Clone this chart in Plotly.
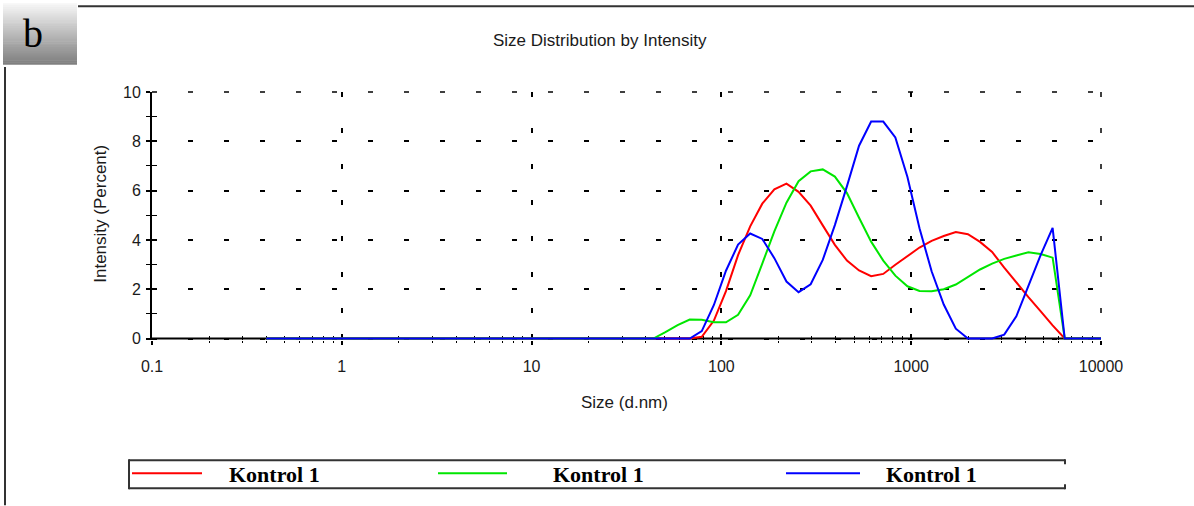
import plotly.graph_objects as go

# ---------------- data ----------------
# size bins (d.nm) shared by the three runs
sizes = [0.4, 43.8, 50.7, 58.8, 68.1, 78.8, 91.3, 105.7, 122.4, 141.8, 164.2, 190.1,
         220.2, 255.0, 295.3, 342.0, 396.1, 458.7, 531.2, 615.1, 712.4, 825.0, 955.4,
         1106, 1281, 1484, 1718, 1990, 2305, 2669, 3091, 3580, 4145, 4801, 5560, 6439,
         7456, 8635, 10000]

red_int = [0, 0, 0, 0, 0, 0.07, 0.73, 1.92, 3.38, 4.55, 5.47, 6.05, 6.28, 5.95, 5.39,
           4.59, 3.8, 3.16, 2.76, 2.53, 2.62, 2.99, 3.35, 3.69, 3.96, 4.16, 4.32, 4.23,
           3.92, 3.51, 2.88, 2.26, 1.68, 1.11, 0.53, 0, 0, 0, 0]

green_int = [0, 0, 0.26, 0.54, 0.77, 0.76, 0.66, 0.66, 0.96, 1.75, 3.04, 4.35, 5.51,
             6.38, 6.78, 6.86, 6.57, 5.9, 4.9, 3.93, 3.16, 2.55, 2.12, 1.93, 1.92, 2.0,
             2.19, 2.51, 2.8, 3.04, 3.23, 3.37, 3.5, 3.43, 3.28, 0, 0, 0, 0]

blue_int = [0, 0, 0, 0, 0, 0.3, 1.36, 2.75, 3.81, 4.26, 4.04, 3.26, 2.31, 1.88, 2.2,
            3.19, 4.6, 6.18, 7.82, 8.8, 8.8, 8.16, 6.55, 4.47, 2.73, 1.38, 0.4, 0, 0, 0,
            0.16, 0.9, 2.14, 3.37, 4.49, 0, 0, 0, 0]

series_names = ["Kontrol 1", "Kontrol 1", "Kontrol 1"]
series_colors = ["#ff0000", "#00e600", "#0000ff"]

x_tickvals = [0.1, 1, 10, 100, 1000, 10000]
x_ticktext = ["0.1", "1", "10", "100", "1000", "10000"]
x_minor = [m * 10 ** e for e in range(-1, 4) for m in range(2, 10)]
y_tickvals = [0, 2, 4, 6, 8, 10]
y_minor = [1, 3, 5, 7, 9]
y_range = [-0.06, 10]
x_range_log = [-1, 4]

title_text = "Size Distribution by Intensity"
x_title = "Size (d.nm)"
y_title = "Intensity (Percent)"
panel_letter = "b"

# ---------------- geometry helpers ----------------
W, H = 1194, 506
L, R, T, B = 152, 1101, 92, 340.5
ZERO_Y = 339  # pixel row of intensity 0


def px(x):
    return (x - L) / (R - L)


def py(y):
    return (B - y) / (B - T)


fig = go.Figure()
# x axis line along intensity 0 (drawn first so the curves cover it)
fig.add_trace(go.Scatter(x=[x_tickvals[0], x_tickvals[-1]], y=[0, 0], mode="lines",
                         line=dict(color="black", width=2), showlegend=False,
                         hoverinfo="skip"))
for ys, c, n in zip([red_int, green_int, blue_int], series_colors, series_names):
    fig.add_trace(go.Scatter(x=sizes, y=ys, mode="lines", name=n,
                             line=dict(color=c, width=2), showlegend=False,
                             hoverinfo="x+y"))

# empty trace for overlay axes (crossing ticks)
fig.add_trace(go.Scatter(x=[], y=[], xaxis="x2", yaxis="y2", showlegend=False))

tick_font = dict(family="Liberation Sans, Arial, sans-serif", size=16, color="#1a1a1a")
grid_dash = "5px,31px"

fig.update_layout(
    width=W, height=H,
    margin=dict(l=L, r=W - R, t=T, b=H - B, pad=0),
    paper_bgcolor="white", plot_bgcolor="white",
    showlegend=False,
    xaxis=dict(type="log", range=x_range_log, tickvals=x_tickvals, ticktext=x_ticktext,
               ticks="outside", ticklen=4, tickwidth=1.5, tickcolor="black",
               showline=False,
               showgrid=True, gridcolor="black", gridwidth=1.5, griddash=grid_dash,
               minor=dict(tickvals=x_minor, ticks="outside", ticklen=2, tickwidth=1.2,
                          tickcolor="black", showgrid=False),
               zeroline=False, tickfont=tick_font, layer="below traces",
               ticklabelstandoff=8, fixedrange=True),
    yaxis=dict(range=y_range, tickvals=y_tickvals,
               ticks="outside", ticklen=4, tickwidth=1.5, tickcolor="black",
               showline=True, linecolor="black", linewidth=2,
               showgrid=True, gridcolor="black", gridwidth=1.5, griddash=grid_dash,
               minor=dict(tickvals=y_minor, ticks="outside", ticklen=4, tickwidth=1.2,
                          tickcolor="black", showgrid=False),
               zeroline=False, tickfont=tick_font, layer="below traces",
               ticklabelstandoff=2, fixedrange=True),
    xaxis2=dict(type="log", range=x_range_log, overlaying="x", anchor="y2", side="bottom",
                tickvals=x_tickvals, ticks="inside", ticklen=6, tickwidth=1.5,
                tickcolor="black", showticklabels=False, showgrid=False,
                showline=False, zeroline=False, layer="below traces",
                minor=dict(tickvals=x_minor, ticks="inside", ticklen=4, tickwidth=1.2,
                           tickcolor="black", showgrid=False), fixedrange=True),
    yaxis2=dict(range=y_range, overlaying="y", anchor="x2", side="left",
                tickvals=y_tickvals, ticks="inside", ticklen=5, tickwidth=1.5,
                tickcolor="black", showticklabels=False, showgrid=False,
                showline=False, zeroline=False, layer="below traces",
                minor=dict(tickvals=y_minor, ticks="inside", ticklen=5, tickwidth=1.2,
                           tickcolor="black", showgrid=False), fixedrange=True),
)

shapes = []
ann = []

# right edge grid line at 10000
shapes.append(dict(type="line", xref="paper", yref="paper", x0=1, x1=1,
                   y0=py(T), y1=py(ZERO_Y),
                   line=dict(color="black", width=1.5, dash=grid_dash), layer="below"))
# top edge grid line at 10
shapes.append(dict(type="line", xref="paper", yref="paper", x0=0, x1=1,
                   y0=py(T), y1=py(T),
                   line=dict(color="black", width=1.5, dash=grid_dash), layer="below"))

# panel letter box with a vertical grey gradient
n_strips = 32
y0b, y1b = 3, 64
for i in range(n_strips):
    t = i / (n_strips - 1)
    g = int(round(246 - t * (246 - 128)))
    ya = y0b + (y1b - y0b) * i / n_strips
    yb = y0b + (y1b - y0b) * (i + 1) / n_strips + 0.6
    shapes.append(dict(type="rect", xref="paper", yref="paper",
                       x0=px(3), x1=px(77), y0=py(ya), y1=py(yb),
                       line=dict(width=0), fillcolor=f"rgb({g},{g},{g})", layer="above"))
ann.append(dict(text=panel_letter, xref="paper", yref="paper", x=px(33), y=py(33),
                showarrow=False, xanchor="center", yanchor="middle",
                font=dict(family="Liberation Serif, Times New Roman, serif", size=40,
                          color="black")))

# frame lines
shapes.append(dict(type="line", xref="paper", yref="paper", x0=px(78), x1=px(1194),
                   y0=py(6), y1=py(6), line=dict(color="#333", width=2)))
shapes.append(dict(type="line", xref="paper", yref="paper", x0=px(5), x1=px(5),
                   y0=py(67), y1=py(506), line=dict(color="#333", width=2)))

# legend box
lc = dict(color="#333", width=2)
shapes += [
    dict(type="line", xref="paper", yref="paper", x0=px(129), x1=px(129), y0=py(460), y1=py(490), line=lc),
    dict(type="line", xref="paper", yref="paper", x0=px(129), x1=px(1065), y0=py(461), y1=py(461), line=lc),
    dict(type="line", xref="paper", yref="paper", x0=px(129), x1=px(1065), y0=py(489), y1=py(489), line=lc),
    dict(type="line", xref="paper", yref="paper", x0=px(1065), x1=px(1065), y0=py(460), y1=py(465), line=lc),
    dict(type="line", xref="paper", yref="paper", x0=px(1065), x1=px(1065), y0=py(485), y1=py(490), line=lc),
]
leg_line = [(132, 202), (438, 507), (786, 860)]
leg_text_x = [274, 598, 931]
for (a, b), tx, c, n in zip(leg_line, leg_text_x, series_colors, series_names):
    shapes.append(dict(type="line", xref="paper", yref="paper", x0=px(a), x1=px(b),
                       y0=py(474), y1=py(474), line=dict(color=c, width=2)))
    ann.append(dict(text=f"<b>{n}</b>", xref="paper", yref="paper", x=px(tx), y=py(475),
                    showarrow=False, xanchor="center", yanchor="middle",
                    font=dict(family="Liberation Serif, Times New Roman, serif", size=22,
                              color="black")))

# titles
lab_font = dict(family="Liberation Sans, Arial, sans-serif", size=17, color="#1a1a1a")
ann.append(dict(text=title_text, xref="paper", yref="paper", x=px(600), y=py(40),
                showarrow=False, xanchor="center", yanchor="middle", font=lab_font))
ann.append(dict(text=x_title, xref="paper", yref="paper", x=px(624), y=py(403),
                showarrow=False, xanchor="center", yanchor="middle", font=lab_font))
ann.append(dict(text=y_title, xref="paper", yref="paper", x=px(101), y=py(214),
                showarrow=False, xanchor="center", yanchor="middle", textangle=-90,
                font=lab_font))

fig.update_layout(shapes=shapes, annotations=ann)
fig.write_html("out.html")
